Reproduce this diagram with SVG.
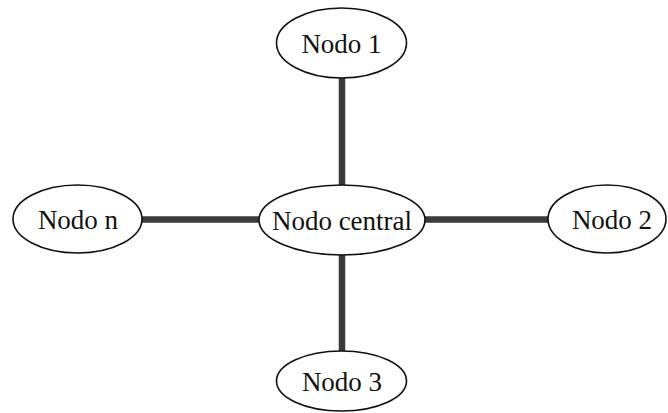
<svg xmlns="http://www.w3.org/2000/svg" width="668" height="413" viewBox="0 0 668 413">
<style>
.node ellipse{fill:#fff;stroke:#111;stroke-width:1.6}
.node text{font-family:"Liberation Serif","Times New Roman",serif;font-size:27px;fill:#111;text-anchor:middle;dominant-baseline:central}
.edges line{stroke:#3a3a3a;stroke-width:6.5}
</style>
<rect width="668" height="413" fill="#fff"/>
<g class="edges">
<line x1="342" y1="78" x2="342" y2="186"/>
<line x1="342" y1="254" x2="342" y2="353"/>
<line x1="141" y1="219.5" x2="261" y2="219.5"/>
<line x1="424" y1="219.5" x2="549" y2="219.5"/>
</g>
<g id="nodo1" class="node"><ellipse cx="341.5" cy="43" rx="65" ry="35"/><text x="341.5" y="44">Nodo 1</text></g>
<g id="central" class="node"><ellipse cx="342" cy="220" rx="83" ry="35"/><text x="342" y="221">Nodo central</text></g>
<g id="nodon" class="node"><ellipse cx="77.5" cy="219" rx="64.5" ry="34"/><text x="78" y="220">Nodo n</text></g>
<g id="nodo2" class="node"><ellipse cx="607" cy="219" rx="59" ry="34"/><text x="612" y="220">Nodo 2</text></g>
<g id="nodo3" class="node"><ellipse cx="341.5" cy="381" rx="65" ry="30"/><text x="342" y="382">Nodo 3</text></g>
</svg>
